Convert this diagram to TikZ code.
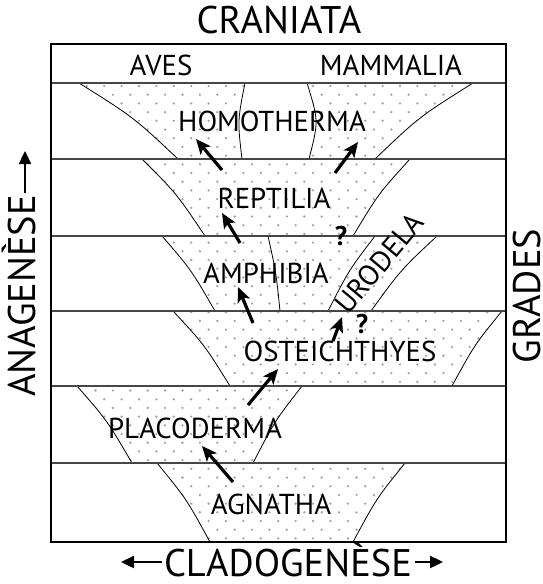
\documentclass[tikz,border=0pt]{standalone}
\usepackage{fontspec}
\setmainfont{PT Sans}
\usetikzlibrary{arrows.meta}
\definecolor{dotgray}{RGB}{165,165,165}
\definecolor{rulegray}{RGB}{70,70,70}

\begin{document}
\begin{tikzpicture}[x=1pt,y=-1pt,
  lab/.style={font=\fontsize{28.8}{32}\selectfont,inner sep=0pt,text depth=0pt,anchor=base},
  ttl/.style={font=\fontsize{38.5}{42}\selectfont,inner sep=0pt,text depth=0pt,anchor=base},
  qmark/.style={font=\fontsize{27}{30}\selectfont\bfseries,inner sep=0pt,text depth=0pt,anchor=base},
  frame/.style={line width=1.8pt},
  sep/.style={line width=1.2pt,rulegray},
  bound/.style={line width=0.8pt},
  arr/.style={-{Stealth[length=15pt,width=13pt,inset=3.5pt]},line width=3.2pt},
  tarr/.style={-{Triangle[length=13pt,width=12pt]},line width=2.4pt}]
\useasboundingbox[fill=white] (0,0) rectangle (543,584);
% stippled zones
\begin{scope}
\clip (79,83) .. controls (133.5,117.2) .. (178,159) -- (242,159) .. controls (237.5,121) .. (245,83) -- cycle
  (307,83) .. controls (318.7,121) .. (309,159) -- (375,159) .. controls (419,117) .. (473,83) -- cycle
  (142,159) .. controls (176.6,193.6) .. (205,236) -- (353,236) .. controls (378.6,193.6) .. (410,159) -- cycle
  (162,236) .. controls (191.2,269.8) .. (215,311) -- (371,311) .. controls (400.7,270) .. (437,236) -- cycle
  (173,311) .. controls (204.4,344.8) .. (230,386) -- (452,386) .. controls (474.5,344.8) .. (502,311) -- cycle
  (77,386) .. controls (107.3,420.7) .. (132,463) -- (253,463) .. controls (275,420.7) .. (302,386) -- cycle
  (157,463) .. controls (186.2,498.6) .. (210,542) -- (353,542) .. controls (376.4,498.6) .. (405,463) -- cycle;
\foreach \j in {0,...,52} \foreach \i in {0,...,26}
  \fill[dotgray] ({52+\i*17.4+mod(\j,2)*8.7},{86+\j*8.7}) circle (1.3);
\end{scope}
% zone edges
\foreach \ax/\ay/\cx/\cy/\bx/\by in {79/83/133.5/117.2/178/159, 245/83/237.5/121/242/159,
    307/83/318.7/121/309/159, 473/83/419/117/375/159, 142/159/176.6/193.6/205/236,
    410/159/378.6/193.6/353/236, 162/236/191.2/269.8/215/311, 268/236/276/272/280/311,
    375/236/349/270/328/311, 437/236/400.7/270/371/311, 173/311/204.4/344.8/230/386,
    502/311/474.5/344.8/452/386, 77/386/107.3/420.7/132/463, 302/386/275/420.7/253/463,
    157/463/186.2/498.6/210/542, 405/463/376.4/498.6/353/542}
  \draw[bound] (\ax,\ay) .. controls (\cx,\cy) .. (\bx,\by);
\foreach \y in {83,159,236,311,386,463} \draw[sep] (51,\y) -- (506,\y);
\draw[frame] (51,44) rectangle (506,542);
% labels
\node[ttl] (craniata) at (279,33) {CRANIATA};
\node[lab] (aves) at (161,75) {AVES};
\node[lab] (mammalia) at (391,75) {MAMMALIA};
\node[lab] (homo) at (272,131) {HOMOTHERMA};
\node[lab] (rept) at (274,208) {REPTILIA};
\node[lab] (amph) at (266,283) {AMPHIBIA};
\node[lab] (oste) at (340,361) {OSTEICHTHYES};
\node[lab] (plac) at (195,438) {PLACODERMA};
\node[lab] (agna) at (271,514) {AGNATHA};
\node[lab,anchor=center,rotate=50] (urod) at (379,263) {URODELA};
\node[qmark] (q1) at (341,245) {?};
\node[qmark] (q2) at (362,333) {?};
\node[ttl] (clado) at (288,576) {CLADOGENÈSE};
\node[ttl,rotate=90] (anag) at (35,296) {ANAGENÈSE};
\node[ttl,rotate=90] (grades) at (540,296) {GRADES};
% axis arrows
\coordinate (cladoA) at (162,562); \coordinate (cladoB) at (121,562);
\coordinate (cladoC) at (415,562); \coordinate (cladoD) at (443,562);
\coordinate (anagA) at (25,193); \coordinate (anagB) at (25,151);
\foreach \a/\b in {cladoA/cladoB,cladoC/cladoD,anagA/anagB} \draw[tarr] (\a)--(\b);
% transitions
\coordinate (s1) at (222,170); \coordinate (e1) at (196,139);
\coordinate (s2) at (335,173); \coordinate (e2) at (358,142);
\coordinate (s3) at (240,243); \coordinate (e3) at (222,213);
\coordinate (s4) at (253,323); \coordinate (e4) at (238,287);
\coordinate (s5) at (333,341); \coordinate (e5) at (342,317);
\coordinate (s6) at (248,405); \coordinate (e6) at (278,369);
\coordinate (s7) at (233,482); \coordinate (e7) at (202,446);
\foreach \i in {1,...,7} \draw[arr] (s\i)--(e\i);
\end{tikzpicture}
\end{document}
